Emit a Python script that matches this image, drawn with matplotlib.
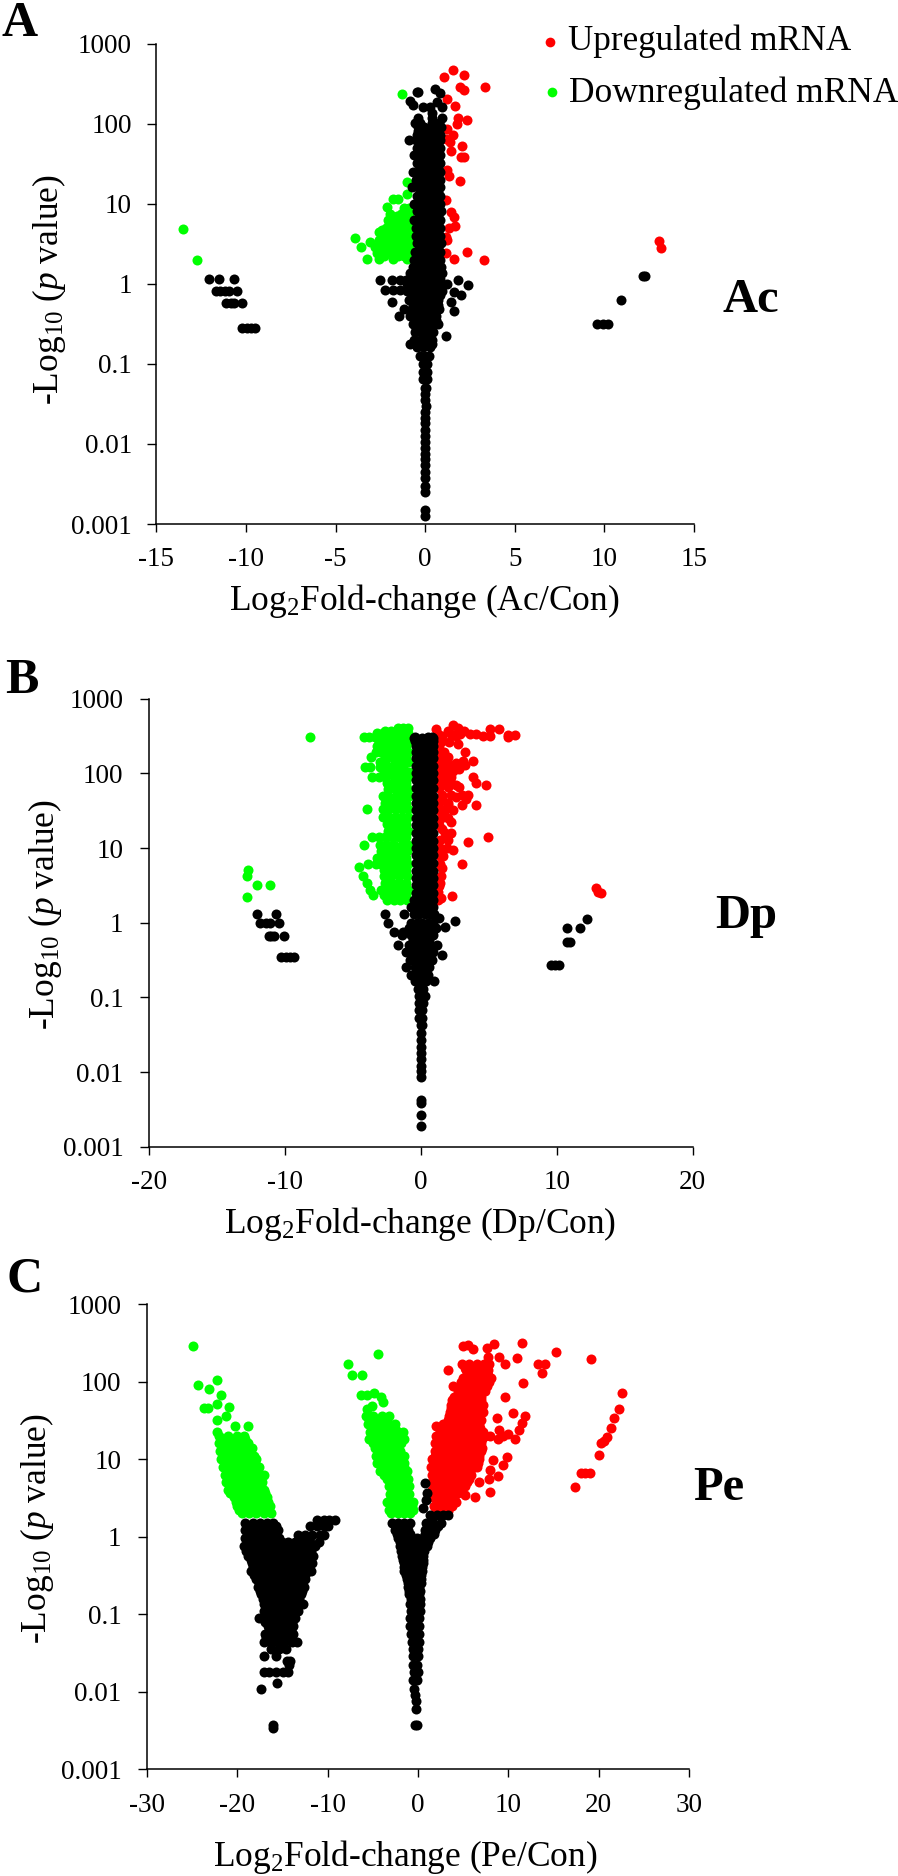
import matplotlib
matplotlib.use("Agg")
import matplotlib.pyplot as plt

W = 898
H = 1876

RED = "#ff0000"
GREEN = "#00ff00"
BLACK = "#000000"

Y_TICKS = [0.001, 0.01, 0.1, 1, 10, 100, 1000]
Y_TICK_LABELS = ["0.001", "0.01", "0.1", "1", "10", "100", "1000"]

A_X_TICKS = [-15, -10, -5, 0, 5, 10, 15]
B_X_TICKS = [-20, -10, 0, 10, 20]
C_X_TICKS = [-30, -20, -10, 0, 10, 20, 30]

# every row below is (p value level, [fold changes read at that level])

# panel A, Ac
A_RED = [
    (462, [1.57]), (400, [2.14]), (377, [1.05]), (287, [3.32]), (284, [1.92]),
    (259, [2.17]), (202, [1.21]), (164, [1.69]), (118, [1.85]), (112, [2.36]),
    (99, [1.76]), (86, [1.21]), (73, [1.53]), (65, [1.15]), (59, [1.37]),
    (53, [2.08]), (45, [1.44]), (38, [2.17, 1.98]), (26, [1.21]), (22, [1.31]),
    (19, [1.92]), (11, [1.15]), (7.9, [1.44]), (6.9, [1.6]), (5.3, [1.69]),
    (4.9, [1.34]), (3.8, [1.15]), (3.5, [1.21]), (3.4, [13.07]), (2.8, [13.16]),
    (2.5, [2.36]), (2.4, [1.15]), (2.05, [1.63]), (2.0, [3.26]),
]
A_GREEN = [
    (231, [-1.31]), (18.5, [-1.02]), (13.2, [-1.02]), (11.4, [-1.82, -1.5]),
    (9.1, [-2.14]), (8.9, [-1.18, -0.9]), (7.5, [-1.98, -1.34, -0.9]),
    (7, [-1.6, -1.2]), (6.3, [-2.1, -1.7, -1.3, -0.9]), (5.6, [-2.0, -1.5, -1.1]),
    (5, [-2.2, -1.9, -1.6, -1.3, -0.9]), (4.8, [-13.5]), (4.7, [-2.4, -2.0, -1.5, -1.1]),
    (4.4, [-2.6, -2.3, -2.0, -1.7, -1.4, -0.9]), (4, [-2.3, -1.8, -1.2]),
    (3.7, [-3.9, -2.0, -1.7, -1.4, -0.9]), (3.5, [-2.6, -2.1, -1.5, -1.1]),
    (3.3, [-3.1, -2.2, -1.9, -1.6, -1.3, -0.9]), (3, [-2.5, -2.2, -1.5, -1.1]),
    (2.85, [-3.58, -2.8, -2.4, -2.0, -1.7, -1.3, -0.9]), (2.6, [-2.5, -1.9, -1.5, -1.1]),
    (2.4, [-2.7, -2.2, -1.7, -1.4, -0.9]), (2.2, [-2.3, -1.5, -1.2]),
    (2.05, [-3.23, -2.6, -1.8, -1.0]), (2.0, [-12.75]),
]
A_BLACK = [
    (268, [0.55]), (250, [-0.47, -0.42]), (243, [0.83]), (193, [-0.85]), (187, [0.64]),
    (171, [-0.66]), (159, [-0.1, 0.27, 0.92]), (134, [0.36]), (116, [-0.38, 0.36, 0.92]),
    (101, [-0.57, -0.3, 0.36, 0.75]), (90, [-0.4, -0.05, 0.3, 0.6, 0.9]),
    (80, [-0.4, 0.0, 0.35, 0.7]),
    (72, [-0.45, -0.1, 0.25, 0.6, 0.85]), (62, [-0.9, -0.5, -0.15, 0.2, 0.55, 0.85]),
    (56, [-0.3, 0.05, 0.4, 0.7]),
    (50, [-0.45, -0.1, 0.25, 0.6, 0.85]), (44, [-0.3, 0.05, 0.4, 0.7]),
    (40, [-0.65, -0.3, 0.05, 0.4, 0.85]), (36, [-0.3, 0.05, 0.4, 0.7]),
    (32, [-0.45, -0.1, 0.25, 0.6, 0.85]), (28, [-0.3, 0.05, 0.4, 0.7]),
    (25, [-0.7, -0.35, 0.0, 0.35, 0.7, 0.85]), (22, [-0.3, 0.05, 0.4, 0.7]),
    (20, [-0.5, -0.1, 0.25, 0.6, 0.85]), (18, [-0.3, 0.05, 0.4, 0.7]),
    (16, [-0.75, -0.4, 0.0, 0.35, 0.7, 0.85]), (14, [-0.3, 0.05, 0.4, 0.7]),
    (12.5, [-0.45, -0.1, 0.25, 0.6, 0.85]), (11, [-0.3, 0.05, 0.4, 0.7]),
    (10, [-0.6, -0.25, 0.1, 0.45, 0.85]), (9, [-0.3, 0.05, 0.4, 0.7]),
    (8, [-0.45, -0.1, 0.25, 0.6, 0.9]), (7, [-0.3, 0.05, 0.4, 0.7]),
    (6.3, [-0.6, -0.25, 0.1, 0.45, 0.85]), (5.6, [-0.3, 0.05, 0.4, 0.7]),
    (5, [-0.5, -0.1, 0.25, 0.6, 0.85]), (4.5, [-0.3, 0.05, 0.4, 0.7]),
    (4, [-0.5, -0.15, 0.2, 0.55, 0.85]), (3.6, [-0.3, 0.05, 0.4, 0.7]),
    (3.2, [-0.45, -0.1, 0.25, 0.6, 0.9]), (2.8, [-0.3, 0.05, 0.4, 0.7]),
    (2.5, [-0.55, -0.2, 0.15, 0.5, 0.85]), (2.2, [-0.3, 0.05, 0.4, 0.7]),
    (2, [-0.6, -0.25, 0.1, 0.45, 0.85]), (1.8, [-0.4, 0.05, 0.4, 0.7]),
    (1.6, [-0.7, -0.35, 0.0, 0.35, 0.7, 0.9]), (1.45, [-0.5, -0.1, 0.3, 0.7]),
    (1.35, [-0.85, -0.5, -0.15, 0.2, 0.55, 0.95]), (1.25, [12.17, 12.25]),
    (1.15, [-0.8, -0.4, 0.0, 0.4, 0.8]),
    (1.13, [-12.08, -11.5, -10.67]), (1.11, [-2.52, -1.87, -1.4, -1.05, 1.85]),
    (1.0, [-1.0, -0.65, -0.3, 0.05, 0.4, 0.8, 1.2]), (0.97, [2.4]),
    (0.9, [-0.8, -0.4, 0.0, 0.4, 0.8]), (0.84, [-2.24, -1.82, -1.4]),
    (0.815, [-11.7, -11.47, -11.18, -10.93, -10.5, -1.0, -0.6, -0.2, 0.2, 0.6, 0.95]),
    (0.79, [1.6]), (0.73, [2.0]), (0.72, [-0.7, -0.3, 0.1, 0.5, 0.8]),
    (0.63, [-0.9, -0.5, -0.1, 0.3, 0.7, 10.9]),
    (0.59, [-1.88, 1.44]), (0.567, [-11.1, -10.86, -10.67, -10.2]),
    (0.55, [-0.7, -0.3, 0.1, 0.5, 0.7]),
    (0.49, [-1.18, -0.75, -0.4, 0.0, 0.4, 0.75]), (0.46, [1.63]),
    (0.44, [-0.7, -0.3, 0.1, 0.5]),
    (0.39, [-1.44, -0.85, -0.5, -0.1, 0.3, 0.6]), (0.35, [-0.5, -0.1, 0.3, 0.6]),
    (0.317, [9.58, 9.9, 10.22, -0.7, -0.3, 0.1, 0.5, 0.7]),
    (0.28, [-0.5, -0.1, 0.3]), (0.277, [-10.2, -9.97, -9.74, -9.49]),
    (0.25, [-0.55, -0.2, 0.2, 0.45]), (0.225, [1.15]),
    (0.2, [-0.6, -0.3, 0.0, 0.4]), (0.175, [-0.86, 0.4]),
    (0.16, [-0.45, -0.1, 0.25]), (0.125, [-0.3, 0.0, 0.2]), (0.1, [-0.15, 0.1]),
    (0.08, [-0.1, 0.1]), (0.065, [-0.1, 0.08]), (0.05, [0.0, 0.05]),
    (0.042, [0.0]), (0.035, [0.0]), (0.03, [0.02]), (0.025, [0.0]), (0.021, [0.0]),
    (0.018, [0.0]), (0.015, [0.0]), (0.0125, [0.0]), (0.0105, [0.0]), (0.009, [0.0]),
    (0.0075, [0.0]), (0.0065, [0.0]), (0.0055, [0.0]), (0.0045, [0.0]), (0.0038, [0.0]),
    (0.003, [0.0]), (0.0025, [0.0]), (0.0015, [0.0]), (0.00125, [0.0]),
]

# panel B, Dp
B_RED = [
    (442, [2.4]), (406, [2.74]), (387, [1.12, 5.1, 5.78]), (365, [2.0, 3.2]),
    (340, [1.3, 2.2, 2.9, 3.6, 4.1]), (326, [6.96, 6.4]), (318, [1.6, 2.6, 4.6, 5.1]),
    (305, [6.41]), (265, [1.5, 2.07]), (249, [2.74]), (195, [1.5, 3.25, 1.69]),
    (163, [1.98, 1.5]), (144, [3.88, 3.1]), (136, [1.56, 2.6]), (128, [3.25, 2.4, 2.0]),
    (113, [2.83, 1.6]), (106, [1.98, 2.4]), (89, [3.88, 1.6, 2.2]), (74, [4.09, 2.19, 1.6]),
    (69, [4.81, 2.6]), (65, [2.83, 2.0]), (51, [3.46, 1.6, 2.2, 3.0]), (48, [2.62]),
    (45, [3.33, 1.6]), (38, [4.09, 1.98, 3.0]), (32, [2.4, 1.5]), (25, [1.5, 2.0]),
    (22, [2.19]), (18, [1.6]), (16, [1.77, 2.2]), (14, [4.94]), (12.6, [1.98, 1.4]),
    (12, [3.46]), (10, [1.4, 1.9]), (9.3, [2.4]), (7.7, [1.65]), (6.2, [3.04, 1.4]),
    (5.4, [1.56]), (4.2, [1.48]), (3.4, [1.4]), (3.1, [1.35]), (2.9, [12.87]),
    (2.6, [13.05]), (2.5, [13.25]), (2.3, [2.32]), (2.15, [1.48]),
    (250, [1.35]), (215, [1.35]), (180, [1.35]), (150, [1.35]), (120, [1.35]),
    (100, [1.35, 1.9]), (80, [1.35, 1.9]), (63, [1.35]), (40, [1.35, 2.0]),
    (32, [1.35, 1.8]), (20, [1.35]), (8, [1.35]), (2.6, [1.3]), (2, [1.3]),
]
B_GREEN = [
    (400, [-0.95, -1.3, -1.7]), (370, [-1.2, -1.7, -2.2, -2.6]),
    (345, [-0.95, -1.4, -1.8, -2.3, -2.8, -3.2]),
    (310, [-8.14, -4.2, -3.8, -3.4, -3.0, -2.6, -2.2, -1.8, -1.4, -0.95]),
    (265, [-3.1, -2.4, -1.8, -1.3, -0.95]), (230, [-3.2, -2.6, -2.1, -1.6, -1.1]),
    (195, [-3.3, -2.9, -2.3, -1.8, -1.3, -0.95]), (167, [-3.66, -2.6, -2.1, -1.6, -1.1]),
    (140, [-3.0, -2.6, -1.9, -1.4, -0.95]), (122, [-4.1, -3.7, -3.0, -2.3, -1.8, -1.3]),
    (105, [-2.7, -2.2, -1.6, -1.1, -0.9]), (90, [-3.56, -3.1, -2.6, -2.0, -1.4, -0.95]),
    (75, [-2.5, -2.0, -1.6, -1.1]), (62, [-2.4, -1.9, -1.4, -0.95]),
    (50, [-2.8, -2.4, -1.8, -1.3, -0.9]), (40, [-2.6, -2.1, -1.6, -1.1]),
    (33, [-3.98, -2.8, -2.3, -1.8, -1.4, -0.95]), (26, [-2.8, -2.4, -1.9, -1.4, -0.95]),
    (21, [-2.5, -2.0, -1.6, -1.1]), (17, [-2.4, -1.9, -1.4, -0.95]),
    (14, [-3.56, -3.1, -2.6, -2.1, -1.6, -1.1]), (11, [-4.15, -3.0, -2.5, -2.0, -1.4, -0.95]),
    (9, [-2.9, -2.4, -1.9, -1.4, -1.0]), (7.4, [-3.2, -2.7, -2.2, -1.6, -1.1]),
    (6.2, [-3.86, -3.3, -2.9, -2.3, -1.8, -1.3, -0.95]), (5.6, [-4.54]),
    (5.1, [-12.7, -2.7, -2.2, -1.7, -1.1]), (4.2, [-12.8, -4.22, -2.7, -2.2, -1.6, -1.0]),
    (3.4, [-3.98, -2.6, -2.1, -1.6, -1.1]),
    (3.2, [-12.07, -11.1]), (2.75, [-3.73, -2.9, -2.3, -1.8, -1.3, -0.95]),
    (2.35, [-3.49, -2.7, -2.1, -1.6, -1.1]), (2.2, [-12.8]),
    (2.0, [-2.5, -2.0, -1.5, -1.0]),
]
B_BLACK = [
    (310, [-0.45, 0.5, 0.85]), (295, [-0.5, 0.1, 0.55, 0.92]), (270, [-0.4, 0.25, 0.6, 0.92]),
    (235, [-0.37, -0.1, 0.3, 0.6, 0.92]), (195, [-0.37, 0.0, 0.3, 0.6, 0.92]),
    (160, [-0.37, -0.05, 0.3, 0.6, 0.92]), (125, [-0.37, 0.0, 0.3, 0.65, 0.92]),
    (100, [-0.37, -0.05, 0.3, 0.6, 0.92]), (80, [-0.37, 0.0, 0.3, 0.65, 0.92]),
    (63, [-0.37, -0.05, 0.3, 0.6, 0.92]), (50, [-0.37, 0.0, 0.3, 0.65, 0.92]),
    (40, [-0.37, -0.05, 0.3, 0.6, 0.92]), (32, [-0.37, 0.0, 0.3, 0.65, 0.92]),
    (25, [-0.37, -0.05, 0.3, 0.6, 0.92]), (20, [-0.37, 0.0, 0.3, 0.65, 0.92]),
    (16, [-0.37, -0.05, 0.3, 0.6, 0.92]), (12.5, [-0.37, 0.0, 0.3, 0.65, 0.92]),
    (10, [-0.37, -0.05, 0.3, 0.6, 0.92]), (8, [-0.37, 0.0, 0.3, 0.65, 0.92]),
    (6.3, [-0.37, -0.05, 0.3, 0.6, 0.92]), (5, [-0.37, 0.0, 0.3, 0.65, 0.92]),
    (4, [-0.37, -0.05, 0.3, 0.6, 0.92]), (3.2, [-0.37, 0.0, 0.3, 0.65, 0.9]),
    (2.5, [-0.37, -0.05, 0.3, 0.6, 0.9]), (2, [-0.5, -0.1, 0.3, 0.6, 0.9]),
    (1.6, [-0.7, -0.3, 0.1, 0.5, 0.9]),
    (1.32, [-12.07, -10.63, -1.2, -0.5, -0.1, 0.3, 0.7, 1.0]), (1.29, [-2.6]),
    (1.17, [1.35]), (1.13, [12.2]), (1.07, [2.53]),
    (1.0, [-11.8, -11.4, -11.1, -10.4, -2.4, -0.7, -0.3, 0.1, 0.5, 0.9]),
    (0.88, [1.77]), (0.85, [10.76, 11.7, -0.9, -0.5, -0.1, 0.3, 0.7, 1.1]),
    (0.78, [-0.6, -0.2, 0.2, 0.6, 0.9]),
    (0.75, [-2.0, -1.3]), (0.68, [-1.4, -0.7, -0.3, 0.1, 0.5, 0.9]),
    (0.66, [-11.2, -11.0, -10.8, -10.04]), (0.58, [-0.6, -0.2, 0.2, 0.6]),
    (0.56, [10.75, 10.95]),
    (0.5, [-1.7, -0.9, -0.5, -0.1, 0.3, 0.7, 1.2]),
    (0.4, [-1.1, -0.7, -0.3, 0.1, 0.5, 0.9]), (0.37, [1.56]),
    (0.345, [-10.25, -9.9, -9.6, -9.3]),
    (0.32, [-0.8, -0.4, 0.0, 0.4, 0.8]), (0.27, [9.58, 9.9, 10.2]),
    (0.256, [-1.05, -0.4, 0.0, 0.4, 0.6]), (0.2, [-0.7, -0.3, 0.1, 0.5]),
    (0.167, [-0.4, 0.0, 0.4, 1.0]), (0.13, [-0.2, 0.2]), (0.105, [-0.1, 0.3]),
    (0.085, [-0.1, 0.15]), (0.068, [-0.1, 0.1]), (0.054, [-0.1, 0.1]),
    (0.043, [0.0, 0.1]), (0.034, [0.0]), (0.027, [0.0]), (0.022, [0.0]), (0.018, [0.0]),
    (0.015, [0.0]), (0.012, [0.0]), (0.0105, [0.0]), (0.0087, [0.0]),
    (0.0043, [0.0]), (0.0039, [0.0]), (0.0027, [0.0]), (0.0019, [0.0]),
]

# panel C, Pe
C_RED = [
    (311, [11.5]), (302, [8.45]), (295, [5.57]), (290, [5.0]), (269, [7.68]), (263, [6.1]),
    (242, [15.3]), (209, [8.97, 7.8]), (204, [11.0]), (193, [19.2]),
    (170, [13.3, 14.1, 9.6, 4.9, 5.7, 6.5, 7.3, 7.9]), (150, [5.2, 6.0, 6.8, 7.6]),
    (141, [3.29, 5.3, 6.1, 6.9, 7.7]), (130, [13.7]), (120, [5.4, 6.2, 7.0, 7.8]),
    (110, [5.0, 5.8, 6.6, 7.4, 8.1]), (98, [4.8, 5.6, 6.4, 7.2, 7.9]), (95, [11.66]),
    (88, [3.84, 4.6, 5.4, 6.2, 7.0, 7.6]), (76, [4.4, 5.2, 6.0, 6.8, 7.4]), (72, [22.6]),
    (64, [9.63, 4.0, 4.8, 5.6, 6.4, 7.0]), (57, [3.8, 4.6, 5.4, 6.2, 7.0]),
    (50, [3.7, 4.5, 5.3, 6.1, 6.9, 7.2]), (45, [3.6, 4.4, 5.2, 6.0, 6.8]),
    (44, [22.3]), (40, [3.5, 4.3, 5.1, 5.9, 6.7, 7.2]), (39, [10.5]), (36, [11.85]),
    (36, [3.4, 4.2, 5.0, 5.8, 6.6]),
    (34, [21.7, 8.7]), (32, [3.3, 4.1, 4.9, 5.7, 6.5, 7.0]), (29, [11.5]),
    (28, [2.8, 3.6, 4.4, 5.2, 6.0, 6.8]),
    (27, [2.0]), (25, [21.4, 2.6, 3.4, 4.2, 5.0, 5.8, 6.6, 6.9]), (24, [11.2, 9.0]),
    (22, [2.4, 3.2, 4.0, 4.8, 5.6, 6.4, 7.2]),
    (21, [10.0]), (20, [9.45, 8.0, 2.0, 2.8, 3.6, 4.4, 5.2, 6.0, 6.8, 7.4]), (19, [20.9]),
    (18, [8.9, 10.7, 2.3, 3.1, 3.9, 4.7, 5.5, 6.3, 7.1]), (17, [20.6]),
    (16, [20.25, 1.9, 2.7, 3.5, 4.3, 5.1, 5.9, 6.7, 7.0]),
    (14, [2.3, 3.1, 3.9, 4.7, 5.5, 6.3, 7.1]),
    (12.5, [1.9, 2.7, 3.5, 4.3, 5.1, 5.9, 6.7, 7.0]), (11.4, [20.06]), (10.7, [9.9]),
    (11, [1.9, 2.7, 3.5, 4.3, 5.1, 5.9, 6.7]),
    (10, [1.5, 2.3, 3.1, 3.9, 4.7, 5.5, 6.3, 6.8]), (9.7, [8.27]),
    (9, [1.8, 2.6, 3.4, 4.2, 5.0, 5.8, 6.6]), (8.3, [9.45]),
    (8, [1.4, 2.2, 3.0, 3.8, 4.6, 5.4, 6.2, 6.5]), (7.2, [8.0]),
    (7.1, [1.8, 2.6, 3.4, 4.2, 5.0, 5.8]),
    (6.5, [18.0, 18.5, 19.0]), (6.3, [1.5, 2.3, 3.1, 3.9, 4.7, 5.5, 5.9]),
    (6, [8.9]), (5.6, [1.9, 2.7, 3.5, 4.3, 5.1, 5.7]), (5.5, [7.9]),
    (5, [1.5, 2.3, 3.1, 3.9, 4.7, 5.4, 6.7]), (4.5, [2.0, 2.8, 3.6, 4.4, 5.2]), (4.4, [17.4]),
    (4, [1.6, 2.4, 3.2, 4.0, 4.8]), (3.7, [8.0]), (3.6, [2.1, 2.9, 3.7, 4.4]),
    (3.4, [5.2]), (3.2, [1.7, 2.5, 3.3, 4.0, 6.3]), (2.8, [2.2, 2.9, 3.6, 4.2]),
    (2.5, [1.8, 2.5, 3.2, 3.8]), (2.15, [2.0, 2.7, 3.3]),
]
C_GREEN = [
    (290, [-24.9]), (226, [-4.4]), (170, [-7.7]), (123, [-7.3, -6.2]), (104, [-22.2]),
    (89, [-24.4]), (81, [-23.1]), (72, [-4.9]), (66, [-21.8, -6.3, -5.7]), (63, [-4.1]),
    (55, [-3.9]), (52, [-22.3]), (48, [-5.06]), (47, [-20.9]), (46, [-23.7, -23.3]),
    (44, [-5.7]), (36, [-21.2, -5.8, -5.0, -4.0, -3.2]), (32, [-22.2, -5.4, -4.4, -3.6]),
    (28, [-5.5, -4.8, -4.0, -3.2, -2.6]), (27, [-18.8, -20.3]),
    (25, [-5.1, -4.4, -3.4, -2.6]),
    (22, [-22.3, -5.3, -4.6, -3.8, -3.0, -2.2, -1.7]),
    (20, [-22.0, -21.0, -20.0, -19.3, -4.9, -4.2, -3.4, -2.6, -1.9]),
    (18, [-5.4, -4.6, -3.8, -3.0, -2.2, -1.6, -21.6, -20.8, -20.0, -19.2]),
    (16, [-22.0, -21.2, -20.4, -19.6, -18.8, -5.0, -4.2, -3.4, -2.6, -1.9]),
    (14, [-4.8, -4.0, -3.2, -2.4, -21.5, -20.7, -19.9, -19.1, -18.4]),
    (12.5, [-21.9, -21.1, -20.3, -19.5, -18.7, -4.4, -3.6, -2.8, -2.0]),
    (11, [-4.6, -3.8, -3.0, -2.2, -1.6, -21.4, -20.6, -19.8, -19.0, -18.2]),
    (10, [-21.8, -21.0, -20.2, -19.4, -18.6, -17.9, -4.2, -3.4, -2.6, -1.8]),
    (9, [-4.5, -3.8, -3.0, -2.2, -1.5, -21.2, -20.4, -19.6, -18.8, -18.0]),
    (8, [-21.6, -20.8, -20.0, -19.2, -18.4, -17.6, -4.0, -3.1, -2.3, -1.5]),
    (7, [-4.2, -3.4, -2.6, -1.8, -1.2, -21.0, -20.2, -19.4, -18.6, -17.8]),
    (6.3, [-21.4, -20.6, -19.8, -19.0, -18.2, -17.4, -17.1, -3.8, -3.0, -2.2, -1.4]),
    (5.6, [-3.4, -2.6, -1.8, -1.1, -20.8, -20.0, -19.2, -18.4, -17.6]),
    (5, [-21.2, -20.4, -19.6, -18.8, -18.0, -17.3, -2.9, -2.0, -1.3]),
    (4.5, [-3.2, -2.4, -1.6, -1.0, -20.6, -19.8, -19.0, -18.2, -17.4]),
    (4, [-21.0, -20.2, -19.4, -18.6, -17.8, -17.0, -2.8, -2.0, -1.3]),
    (3.6, [-20.8, -20.0, -19.2, -18.4, -17.6, -16.9]), (3.5, [-3.1, -2.4, -1.6, -1.0]),
    (3.2, [-20.4, -19.7, -18.9, -18.1, -17.3, -16.7]), (3.1, [-3.0, -2.2, -1.3]),
    (2.8, [-3.4, -2.6, -1.8, -1.0, -0.6, -20.2, -19.4, -18.6, -17.8, -17.0, -16.6]),
    (2.5, [-20.0, -19.2, -18.4, -17.6, -16.8, -16.4, -2.9, -2.1, -1.3, -0.7]),
    (2.2, [-3.2, -2.5, -1.7, -0.9, -0.6, -19.8, -19.0, -18.2, -17.4, -16.6]),
    (2, [-19.5, -18.7, -17.9, -17.1, -16.3, -3.0, -2.2, -1.5, -0.9]),
]
C_BLACK = [
    (4.9, [0.77]), (3.6, [0.96]), (3, [0.9]), (2.3, [0.6]),
    (1.9, [1.3, 2.1, 2.8, 3.3]),
    (1.65, [-11.2, -10.4, -9.8, -9.2]),
    (1.5, [-19.1, -18.3, -17.5, -16.7, -16.0, -2.9, -2.2, -1.5, -0.9, 0.9, 1.7, 2.5]),
    (1.35, [-12.0, -11.2, -10.4, -10.0, -18.7, -17.9, -17.1, -16.3, -15.7,
            -2.6, -1.9, -1.2, 1.2, 1.9, 2.2]),
    (1.2, [-19.2, -18.4, -17.6, -16.8, -16.0, -15.5, -2.5, -1.8, -1.1, 0.8, 1.5, 1.9]),
    (1.07, [-18.8, -18.0, -17.2, -16.4, -15.7, -2.3, -1.6, -0.9, 0.8, 1.3, 1.8]),
    (1.05, [-13.3, -12.5, -11.7, -10.9, -10.4]),
    (0.95, [-19.2, -18.4, -17.6, -16.8, -16.0, -15.4, -2.2, -1.5, -0.8, -0.1, 0.6, 1.3]),
    (0.85, [-14.4, -13.6, -12.8, -12.0, -11.0, -18.8, -18.0, -17.2, -16.4, -15.6, -15.1,
            -2.0, -1.3, -0.6, 0.1, 0.7, 1.1]),
    (0.75, [-19.3, -18.7, -17.9, -17.1, -16.3, -15.5, -14.7, -13.9, -13.1, -12.3, -11.4,
            -2.0, -1.3, -0.6, 0.1, 0.7, 1.0]),
    (0.65, [-19.0, -18.2, -17.4, -16.6, -15.8, -15.0, -14.2, -13.4, -12.6, -11.8,
            -1.9, -1.2, -0.5, 0.2, 0.7]),
    (0.56, [-18.8, -18.0, -17.2, -16.4, -15.6, -14.8, -14.0, -13.2, -12.4, -11.6,
            -1.8, -1.1, -0.4, 0.3, 0.6]),
    (0.5, [-18.5, -17.7, -16.9, -16.1, -15.3, -14.5, -13.7, -12.9, -12.1,
           -1.7, -1.0, -0.3, 0.4, 0.5]),
    (0.45, [-18.4, -17.6, -16.8, -16.0, -15.2, -14.4, -13.6, -12.8, -12.0, -11.7,
            -1.6, -1.0, -0.4, 0.3, 0.5]),
    (0.4, [-18.3, -17.5, -16.7, -15.9, -15.1, -14.3, -13.5, -12.7, -12.1,
           -1.5, -0.8, -0.1, 0.4]),
    (0.36, [-18.5, -17.8, -17.0, -16.2, -15.4, -14.6, -13.8, -13.0, -12.2, -11.9,
            -1.5, -0.9, -0.3, 0.3, 0.4]),
    (0.32, [-18.1, -17.3, -16.5, -15.7, -14.9, -14.1, -13.3, -12.5, -1.3, -0.7, -0.1, 0.3]),
    (0.28, [-17.9, -17.1, -16.3, -15.5, -14.7, -13.9, -13.1, -12.5,
            -1.2, -0.6, 0.0, 0.3]),
    (0.25, [-17.6, -16.8, -16.0, -15.2, -14.4, -13.6, -12.8, -1.1, -0.5, 0.1, 0.3]),
    (0.22, [-17.7, -16.9, -16.1, -15.3, -14.5, -13.7, -12.9, -12.6, -1.1, -0.5, 0.1]),
    (0.2, [-17.5, -16.7, -15.9, -15.1, -14.3, -13.5, -12.8, -1.0, -0.4, 0.2]),
    (0.18, [-17.4, -16.6, -15.8, -15.0, -14.2, -13.4, -12.9, -1.0, -0.4, 0.1]),
    (0.155, [-17.2, -16.4, -15.6, -14.8, -14.0, -13.2, -0.8, -0.3, 0.2]),
    (0.135, [-17.0, -16.2, -15.4, -14.6, -13.8, -13.0, -12.7, -0.9, -0.3, 0.2]),
    (0.12, [-16.6, -15.8, -15.0, -14.2, -13.6]),
    (0.11, [-17.0, -16.2, -15.4, -14.6, -13.8, -13.3, -0.8, -0.2, 0.2]),
    (0.1, [-16.4, -15.6, -14.8, -14.0]),
    (0.09, [-17.6, -16.8, -16.0, -15.2, -14.4, -13.6, -0.9, -0.3, 0.1]),
    (0.08, [-16.9, -16.1, -15.3, -14.5, -13.9]),
    (0.07, [-16.6, -15.8, -15.0, -14.2, -13.8, -0.9, -0.3, 0.1]),
    (0.063, [-16.5, -15.7, -14.9, -14.1]),
    (0.056, [-16.9, -16.1, -15.3, -14.5, -13.8, -0.8, -0.2, 0.1]),
    (0.05, [-16.8, -16.0, -15.2, -14.4]),
    (0.043, [-17.1, -16.4, -15.6, -14.8, -14.0, -13.4, -0.7, -0.1, 0.1]),
    (0.035, [-16.3, -15.4, -14.6, -0.6, 0.0]),
    (0.029, [-17.1, -15.7, -0.6, 0.0]), (0.025, [-14.5, -14.2]),
    (0.022, [-14.3, -0.6, -0.1]), (0.018, [-17.1, -16.5, -15.7, -15.0, -14.4, -0.4, 0.0]),
    (0.014, [-0.5, -0.1]), (0.0129, [-15.65]), (0.0107, [-17.4, -0.4]), (0.009, [-0.3]),
    (0.0075, [-0.2]), (0.006, [-0.2]), (0.0037, [-16.1, -0.3, -0.1]), (0.0034, [-16.0]),
]


def expand(rows):
    xs = []
    ys = []
    for level, values in rows:
        for value in values:
            xs.append(value)
            ys.append(level)
    return xs, ys


def make_axes(fig, left, right, top, bottom):
    return fig.add_axes([left / W, 1 - bottom / H, (right - left) / W, (bottom - top) / H])


def draw_panel(fig, box, xlim, xticks, rows, ypad, xpad):
    ax = make_axes(fig, *box)
    ax.set_xlim(*xlim)
    ax.set_yscale("log")
    ax.set_ylim(0.001, 1000)

    for part, color in rows:
        xs, ys = expand(part)
        ax.scatter(xs, ys, s=52, color=color, linewidths=0, clip_on=False, zorder=3)

    ax.set_yticks(Y_TICKS)
    ax.set_yticklabels(Y_TICK_LABELS)
    ax.minorticks_off()
    ax.set_xticks(xticks)
    ax.set_xticklabels([str(t) for t in xticks])
    ax.tick_params(axis="y", length=6.5, width=1, labelsize=19.5, pad=ypad)
    ax.tick_params(axis="x", length=5.5, width=1, labelsize=19.5, pad=xpad)
    for side in ["top", "right"]:
        ax.spines[side].set_visible(False)
    for side in ["left", "bottom"]:
        ax.spines[side].set_linewidth(1.1)
    return ax


def put_text(fig, x, y, text, **kwargs):
    fig.text(x / W, 1 - y / H, text, ha="center", va="center", **kwargs)


def main():
    plt.rcParams["font.family"] = ["Liberation Serif", "DejaVu Serif"]
    plt.rcParams["mathtext.fontset"] = "custom"
    plt.rcParams["mathtext.rm"] = "Liberation Serif"
    plt.rcParams["mathtext.it"] = "Liberation Serif:italic"

    fig = plt.figure(figsize=(W / 100, H / 100), dpi=100)

    draw_panel(fig, (156.4, 694, 43.5, 524), (-15, 15), A_X_TICKS,
               [(A_GREEN, GREEN), (A_RED, RED), (A_BLACK, BLACK)], 11, 11)
    draw_panel(fig, (149, 692.5, 698.5, 1147), (-20, 20), B_X_TICKS,
               [(B_GREEN, GREEN), (B_RED, RED), (B_BLACK, BLACK)], 12, 11)
    draw_panel(fig, (147, 689, 1304, 1769), (-30, 30), C_X_TICKS,
               [(C_GREEN, GREEN), (C_RED, RED), (C_BLACK, BLACK)], 12, 12)

    ylab = "-Log$_{10}$ ($\\mathit{p}$ value)"
    put_text(fig, 49, 290, ylab, fontsize=25.5, rotation=90)
    put_text(fig, 45, 915, ylab, fontsize=25.5, rotation=90)
    put_text(fig, 37, 1529, ylab, fontsize=25.5, rotation=90)

    put_text(fig, 424, 601, "Log$_{2}$Fold-change (Ac/Con)", fontsize=25.5)
    put_text(fig, 420, 1224, "Log$_{2}$Fold-change (Dp/Con)", fontsize=25.5)
    put_text(fig, 405, 1857, "Log$_{2}$Fold-change (Pe/Con)", fontsize=25.5)

    put_text(fig, 20, 24, "A", fontsize=36, fontweight="bold")
    put_text(fig, 22, 681, "B", fontsize=36, fontweight="bold")
    put_text(fig, 25, 1279, "C", fontsize=36, fontweight="bold")

    put_text(fig, 751, 300, "Ac", fontsize=35, fontweight="bold")
    put_text(fig, 746, 916, "Dp", fontsize=35, fontweight="bold")
    put_text(fig, 719, 1488, "Pe", fontsize=35, fontweight="bold")

    # legend sits inside panel A
    fig.add_artist(plt.Line2D([550 / W], [1 - 42 / H], marker="o", ms=7, color=RED, mew=0))
    fig.add_artist(plt.Line2D([551.5 / W], [1 - 92.5 / H], marker="o", ms=7, color=GREEN, mew=0))
    fig.text(568 / W, 1 - 41.5 / H, "Upregulated mRNA", fontsize=25.2, ha="left", va="center")
    fig.text(569 / W, 1 - 93 / H, "Downregulated mRNA", fontsize=25.5, ha="left", va="center")

    fig.savefig("out.png", dpi=100)


if __name__ == "__main__":
    main()
